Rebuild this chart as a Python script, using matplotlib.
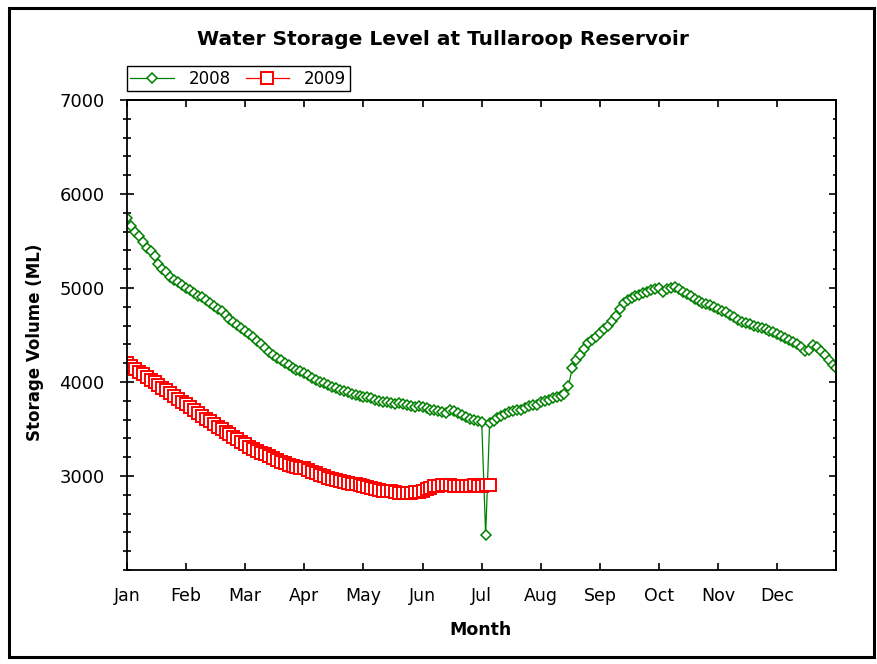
"""
Water storage level at Tullaroop Reservoir, 2008 vs 2009.
Values read off the reference chart, sampled every 1/15 month (~2 days).
"""

import numpy as np
import matplotlib.pyplot as plt
from matplotlib.patches import Rectangle
from matplotlib.ticker import MultipleLocator

MONTHS = ["Jan", "Feb", "Mar", "Apr", "May", "Jun",
          "Jul", "Aug", "Sep", "Oct", "Nov", "Dec"]
PER_MONTH = 15  # samples per month

# storage volume (ML), one row per month
vol_2008 = [
    5745, 5660, 5600, 5550, 5490, 5430, 5390, 5340, 5260, 5200, 5170, 5120, 5090, 5060, 5030,  # Jan
    4995, 4975, 4950, 4920, 4900, 4875, 4840, 4810, 4780, 4750, 4710, 4670, 4640, 4610, 4575,  # Feb
    4540, 4510, 4475, 4440, 4400, 4360, 4320, 4290, 4260, 4230, 4200, 4180, 4150, 4130, 4115,  # Mar
    4100, 4070, 4040, 4020, 4000, 3985, 3970, 3950, 3935, 3920, 3905, 3890, 3870, 3860, 3850,  # Apr
    3840, 3835, 3825, 3810, 3795, 3790, 3785, 3780, 3770, 3775, 3765, 3750, 3745, 3735, 3740,  # May
    3730, 3720, 3705, 3700, 3690, 3680, 3670, 3700, 3690, 3670, 3650, 3630, 3610, 3600, 3585,  # Jun
    3570, 2370, 3560, 3590, 3615, 3640, 3660, 3680, 3690, 3700, 3705, 3720, 3740, 3750, 3760,  # Jul
    3790, 3800, 3810, 3825, 3840, 3850, 3870, 3960, 4150, 4230, 4290, 4350, 4410, 4450, 4480,  # Aug
    4520, 4560, 4600, 4650, 4700, 4780, 4840, 4870, 4890, 4910, 4930, 4950, 4960, 4975, 4990,  # Sep
    4995, 4960, 4990, 5005, 5010, 4990, 4960, 4940, 4910, 4880, 4860, 4845, 4830, 4815, 4800,  # Oct
    4780, 4760, 4740, 4715, 4690, 4660, 4640, 4625, 4620, 4600, 4590, 4575, 4565, 4545, 4530,  # Nov
    4510, 4490, 4470, 4450, 4430, 4400, 4370, 4330, 4340, 4390, 4370, 4330, 4290, 4230, 4180,  # Dec
    4150,
]

vol_2009 = [
    4200, 4170, 4140, 4110, 4080, 4050, 4020, 4000, 3970, 3940, 3910, 3880, 3850, 3820, 3790,  # Jan
    3765, 3735, 3700, 3670, 3640, 3610, 3580, 3550, 3520, 3495, 3470, 3445, 3420, 3390, 3360,  # Feb
    3340, 3310, 3285, 3265, 3245, 3230, 3215, 3190, 3170, 3150, 3135, 3120, 3105, 3095, 3085,  # Mar
    3080, 3065, 3045, 3030, 3010, 2995, 2980, 2970, 2960, 2950, 2940, 2930, 2920, 2915, 2905,  # Apr
    2895, 2885, 2875, 2865, 2855, 2845, 2840, 2835, 2825, 2820, 2815, 2815, 2820, 2825, 2830,  # May
    2840, 2860, 2875, 2890, 2895, 2900, 2905, 2900, 2895, 2895, 2890, 2895, 2895, 2900, 2895,  # Jun
    2895, 2900, 2900,                                                                          # Jul
]

GREEN = "#008000"
RED = "#FF0000"

x08 = np.arange(len(vol_2008)) / PER_MONTH
x09 = np.arange(len(vol_2009)) / PER_MONTH

# ─────────────────────────────────────────────────────────────────────────────
# Figure
# ─────────────────────────────────────────────────────────────────────────────
plt.rcParams["font.family"] = ["DejaVu Sans"]

fig = plt.figure(figsize=(8.78, 6.64), dpi=100)
ax = fig.add_axes([0.1446, 0.1416, 0.8081, 0.7078])

ax.plot(x08, vol_2008, color=GREEN, lw=0.9, marker="D", ms=4.8,
        mfc="white", mec=GREEN, mew=1.1, label="2008")
ax.plot(x09, vol_2009, color=RED, lw=0.9, marker="s", ms=8.5,
        mfc="white", mec=RED, mew=1.4, label="2009")

ax.set_xlim(0, 12)
ax.set_ylim(2000, 7000)
ax.set_xticks(range(12))
ax.set_xticklabels(MONTHS)
ax.set_yticks([3000, 4000, 5000, 6000, 7000])
ax.yaxis.set_minor_locator(MultipleLocator(200))

for sp in ax.spines.values():
    sp.set_linewidth(1.3)

ax.tick_params(axis="y", which="major", direction="inout", length=10, width=1.2,
               labelsize=13, pad=11, right=False)
ax.tick_params(axis="y", which="minor", direction="inout", length=6, width=1.2,
               right=False)
ax.tick_params(axis="x", which="major", direction="in", length=5, width=1.2,
               labelsize=12.5, pad=12, top=False)

# inner ticks on top and right edges
sec_x = ax.secondary_xaxis("top")
sec_x.set_xticks(range(12))
sec_x.tick_params(direction="in", length=5, width=1.2, labeltop=False)
sec_x.spines["top"].set_linewidth(1.3)

sec_y = ax.secondary_yaxis("right")
sec_y.set_yticks([3000, 4000, 5000, 6000, 7000])
sec_y.yaxis.set_minor_locator(MultipleLocator(200))
sec_y.tick_params(which="major", direction="in", length=5, width=1.2, labelright=False)
sec_y.tick_params(which="minor", direction="in", length=2.5, width=1.2)
sec_y.spines["right"].set_linewidth(1.3)

# labels and title
fig.text(0.504, 0.9398, "Water Storage Level at Tullaroop Reservoir",
         ha="center", va="center", fontsize=14.5, fontweight="bold")
fig.text(0.5467, 0.0512, "Month", ha="center", va="center",
         fontsize=12.5, fontweight="bold")
fig.text(0.0399, 0.4842, "Storage Volume (ML)", ha="center", va="center",
         rotation=90, fontsize=12, fontweight="bold")

leg = ax.legend(loc="lower left", bbox_to_anchor=(0.1446, 0.863),
                bbox_transform=fig.transFigure, borderaxespad=0, ncol=2,
                numpoints=1, fontsize=12, handlelength=2.6, handletextpad=0.9,
                columnspacing=0.9, borderpad=0.2, fancybox=False,
                framealpha=1, edgecolor="black")
leg.get_frame().set_linewidth(1.0)

# outer frame
fig.add_artist(Rectangle((0.0097, 0.0098), 0.9852, 0.9774, transform=fig.transFigure,
                         fill=False, edgecolor="black", lw=2.2))

fig.savefig("out.png", dpi=100)
plt.close(fig)
